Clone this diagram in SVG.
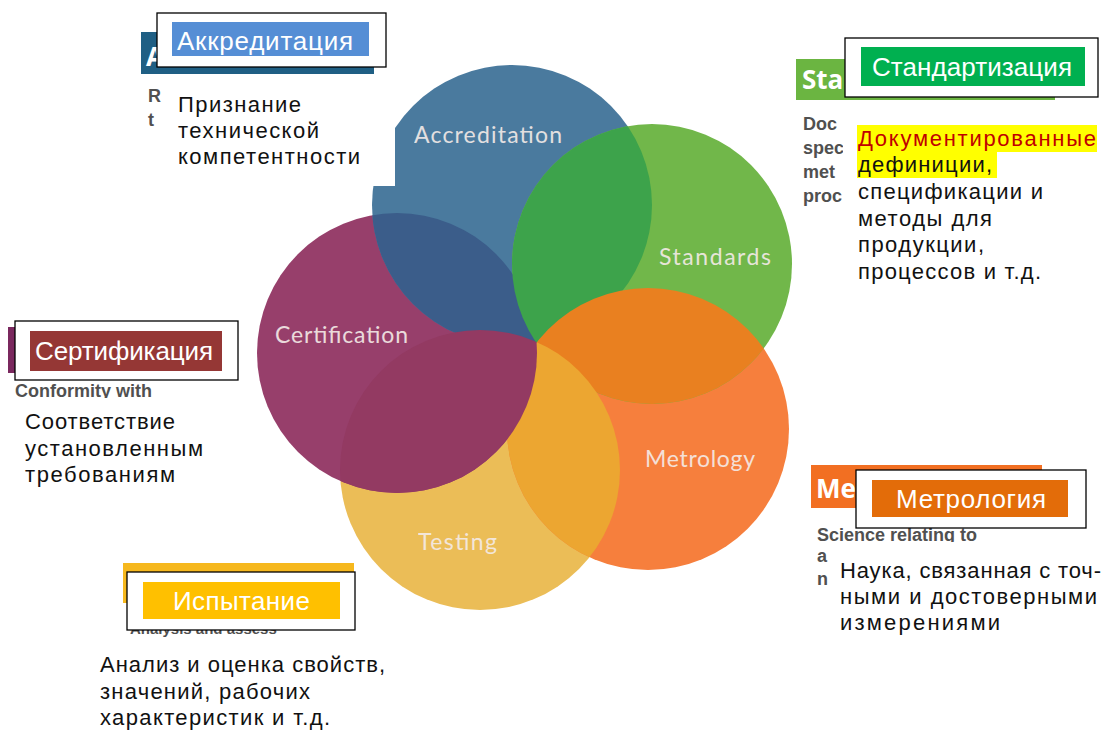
<svg xmlns="http://www.w3.org/2000/svg" width="1104" height="731" viewBox="0 0 1104 731">
  <style>
    .ru { font-family: "Liberation Sans", "Noto Sans", "DejaVu Sans", sans-serif; }
    .title { font-size: 26px; fill: #ffffff; }
    .desc { font-size: 22px; fill: #111111; }
    .frame { fill: #ffffff; stroke: #000000; stroke-width: 1.3; }
    .cover { fill: #ffffff; }
    .en { font-family: "Liberation Sans", "Open Sans", sans-serif; fill: #505050; font-size: 18px; font-weight: 700; }
    .barlbl { font-family: "Open Sans", "Liberation Sans", sans-serif; fill: #ffffff; font-size: 26px; font-weight: 700; }
    .clabel { font-family: Lato, "Open Sans", sans-serif; font-size: 23px; fill: #f4ebe8; opacity: 0.9; }
  </style>
  <defs>
    <clipPath id="cp-blue"><circle cx="512" cy="205" r="140"/></clipPath>
    <clipPath id="cp-green"><circle cx="652" cy="264" r="140"/></clipPath>
    <clipPath id="cp-orange"><circle cx="648" cy="429" r="141"/></clipPath>
    <clipPath id="cp-yellow"><circle cx="480" cy="470" r="140"/></clipPath>
    <clipPath id="cp-purple"><circle cx="397" cy="353" r="140"/></clipPath>
  </defs>

  <rect width="1104" height="731" fill="#ffffff"/>

  <!-- English legend bars and lines behind the Russian captions -->
  <g id="legend-background">
    <rect x="141" y="32" width="233" height="42" fill="#1f5f84"/>
    <text class="barlbl" x="146" y="66">A</text>
    <text class="en" x="148" y="102">R</text>
    <text class="en" x="148" y="126">t</text>

    <rect x="796" y="59" width="259" height="41" fill="#6bb541"/>
    <text class="barlbl" x="802" y="89">Sta</text>
    <text class="en" x="803" y="130">Doc</text>
    <text class="en" x="803" y="154">spec</text>
    <text class="en" x="803" y="178">met</text>
    <text class="en" x="803" y="202">proc</text>

    <rect x="8" y="327" width="24" height="46" fill="#7a285e"/>
    <text class="en" x="15" y="397">Conformity with</text>

    <rect x="811" y="465" width="231" height="43" fill="#f26f22"/>
    <text class="barlbl" x="816" y="498">Me</text>
    <text class="en" x="817" y="541">Science relating to</text>
    <text class="en" x="817" y="562">a</text>
    <text class="en" x="817" y="585">n</text>

    <rect x="123" y="563" width="231" height="40" fill="#f6b81e"/>
    <text class="en" x="130" y="634" style="font-size:15px">Analysis and assess</text>
  </g>

  <!-- Five overlapping domains -->
  <g id="circles">
    <circle id="circle-yellow" cx="480" cy="470" r="140" fill="#ebbd57"/>
    <circle id="circle-orange" cx="648" cy="429" r="141" fill="#f67f3d"/>
    <circle id="circle-purple" cx="397" cy="353" r="140" fill="#973f6b"/>
    <circle id="circle-blue" cx="512" cy="205" r="140" fill="#4a7a9e"/>
    <circle id="circle-green" cx="652" cy="264" r="140" fill="#71b74a"/>
  </g>
  <g id="overlaps">
    <circle cx="512" cy="205" r="140" fill="#3b5d8a" clip-path="url(#cp-purple)"/>
    <circle cx="652" cy="264" r="140" fill="#3da34b" clip-path="url(#cp-blue)"/>
    <circle cx="648" cy="429" r="141" fill="#e98020" clip-path="url(#cp-green)"/>
    <circle cx="480" cy="470" r="140" fill="#eca631" clip-path="url(#cp-orange)"/>
    <circle cx="397" cy="353" r="140" fill="#933a62" clip-path="url(#cp-yellow)"/>
  </g>
  <g id="circle-labels">
    <text class="clabel" x="414" y="143" textLength="148">Accreditation</text>
    <text class="clabel" x="659" y="265" textLength="112">Standards</text>
    <text class="clabel" x="275" y="343" textLength="133">Certification</text>
    <text class="clabel" x="645" y="467" textLength="110">Metrology</text>
    <text class="clabel" x="418" y="550" textLength="79">Testing</text>
  </g>

  <!-- Accreditation -->
  <g id="node-accreditation" class="ru">
    <rect class="cover" x="168" y="76" width="227" height="110"/>
    <rect class="frame" x="157" y="13" width="229" height="54"/>
    <rect x="172" y="22" width="197" height="34" fill="#558ed5"/>
    <text class="title" x="177" y="50" textLength="176">Аккредитация</text>
    <text class="desc" x="178" y="112" textLength="123">Признание</text>
    <text class="desc" x="178" y="138" textLength="141">технической</text>
    <text class="desc" x="178" y="164" textLength="182">компетентности</text>
  </g>

  <!-- Standardization -->
  <g id="node-standardization" class="ru">
    <rect class="cover" x="843" y="118" width="261" height="180"/>
    <rect class="frame" x="845" y="38" width="253" height="59"/>
    <rect x="861" y="47" width="224" height="39" fill="#00b050"/>
    <text class="title" x="872" y="76" textLength="200">Стандартизация</text>
    <rect x="857" y="125" width="240" height="27" fill="#ffff00"/>
    <rect x="857" y="152" width="140" height="26" fill="#ffff00"/>
    <text class="desc" x="858" y="146" textLength="238" style="fill:#c00000">Документированные</text>
    <text class="desc" x="858" y="172" textLength="134">дефиниции,</text>
    <text class="desc" x="858" y="199" textLength="185">спецификации и</text>
    <text class="desc" x="858" y="226" textLength="134">методы для</text>
    <text class="desc" x="858" y="252" textLength="126">продукции,</text>
    <text class="desc" x="858" y="279" textLength="183">процессов и т.д.</text>
  </g>

  <!-- Certification -->
  <g id="node-certification" class="ru">
    <rect class="cover" x="0" y="398" width="250" height="100"/>
    <rect class="frame" x="15" y="321" width="223" height="59"/>
    <rect x="30" y="331" width="192" height="40" fill="#953735"/>
    <text class="title" x="35" y="360" textLength="178">Сертификация</text>
    <text class="desc" x="25" y="429" textLength="150">Соответствие</text>
    <text class="desc" x="25" y="456" textLength="178">установленным</text>
    <text class="desc" x="25" y="482" textLength="150">требованиям</text>
  </g>

  <!-- Metrology -->
  <g id="node-metrology" class="ru">
    <rect class="cover" x="829" y="542" width="275" height="100"/>
    <rect class="frame" x="856" y="470" width="230" height="58"/>
    <rect x="872" y="480" width="196" height="37" fill="#e36c09"/>
    <text class="title" x="896" y="508" textLength="150">Метрология</text>
    <text class="desc" x="840" y="578" textLength="261">Наука, связанная с точ-</text>
    <text class="desc" x="840" y="604" textLength="257">ными и достоверными</text>
    <text class="desc" x="840" y="630" textLength="160">измерениями</text>
  </g>

  <!-- Testing -->
  <g id="node-testing" class="ru">
    <rect class="frame" x="127" y="572" width="228" height="58"/>
    <rect x="143" y="582" width="197" height="37" fill="#ffc000"/>
    <text class="title" x="173" y="610" textLength="137">Испытание</text>
    <text class="desc" x="100" y="672" textLength="285">Анализ и оценка свойств,</text>
    <text class="desc" x="100" y="699" textLength="210">значений, рабочих</text>
    <text class="desc" x="100" y="725" textLength="230">характеристик и т.д.</text>
  </g>
</svg>
